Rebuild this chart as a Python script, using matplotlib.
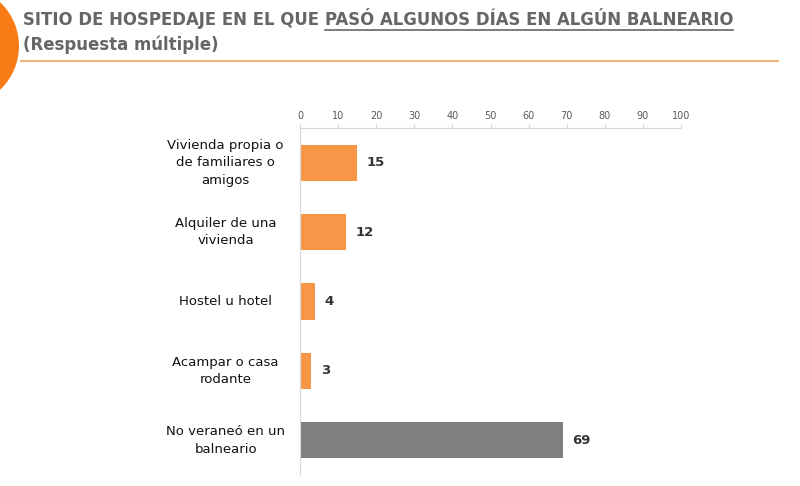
import matplotlib
matplotlib.use("Agg")
import matplotlib.pyplot as plt
from matplotlib.patches import Ellipse
from matplotlib.lines import Line2D

# --- Datos ---
categorias = ["Vivienda propia o\nde familiares o\namigos",
              "Alquiler de una\nvivienda",
              "Hostel u hotel",
              "Acampar o casa\nrodante",
              "No veraneó en un\nbalneario"]
valores = [15, 12, 4, 3, 69]
colores = ["#F79646", "#F79646", "#F79646", "#F79646", "#7F7F7F"]
ticks = list(range(0, 101, 10))

titulo_a = "SITIO DE HOSPEDAJE EN EL QUE "
titulo_b = "PASÓ ALGUNOS DÍAS EN ALGÚN BALNEARIO"
subtitulo = "(Respuesta múltiple)"

fig = plt.figure(figsize=(8, 4.86), dpi=100)
fig.patch.set_facecolor("white")

# círculo naranja en el borde (en píxeles -> fracción de figura)
fig.patches.append(Ellipse((-41 / 800, 1 - 46 / 486), 120 / 800, 120 / 486,
                           transform=fig.transFigure, facecolor="#F97B16", edgecolor="none"))
# línea bajo el título
fig.add_artist(Line2D([21 / 800, 778 / 800], [1 - 61 / 486, 1 - 61 / 486],
                      color="#F2B27A", lw=1.5, transform=fig.transFigure))

tfont = dict(family=["DejaVu Sans"], fontsize=13.2, color="#666666", weight="bold",
             stretch="condensed")
t1 = fig.text(23 / 800, 1 - 20 / 486, titulo_a, va="center", ha="left", **tfont)
fig.canvas.draw()
r = fig.canvas.get_renderer()
bb = t1.get_window_extent(r)
x2 = bb.x1 / fig.bbox.width
t2 = fig.text(x2, 1 - 20 / 486, titulo_b, va="center", ha="left", **tfont)
fig.canvas.draw()
bb2 = t2.get_window_extent(r)
yline = (bb2.y0 - 1) / fig.bbox.height
fig.add_artist(Line2D([bb2.x0 / fig.bbox.width, bb2.x1 / fig.bbox.width], [yline, yline],
                      color="#666666", lw=1.2, transform=fig.transFigure))
fig.text(23 / 800, 1 - 45 / 486, subtitulo, va="center", ha="left", **tfont)

# --- Gráfico de barras ---
ax = fig.add_axes([300 / 800, 1 - 475 / 486, 381 / 800, 347 / 486])
y = list(range(len(categorias)))
ax.barh(y, valores, height=0.52, color=colores)
ax.set_xlim(0, 100)
ax.set_ylim(len(categorias) - 0.5, -0.5)
ax.xaxis.tick_top()
ax.set_xticks(ticks)
ax.tick_params(axis="x", colors="#D9D9D9", labelcolor="#595959", labelsize=7, length=3, pad=2)
ax.set_yticks(y)
ax.set_yticklabels([])
ax.tick_params(axis="y", length=0)
for s in ["right", "bottom"]:
    ax.spines[s].set_visible(False)
ax.spines["top"].set_color("#D9D9D9")
ax.spines["left"].set_color("#D9D9D9")

for yi, cat in zip(y, categorias):
    ax.text(-19.5, yi, cat, ha="center", va="center", fontsize=9.5, color="#111111",
            clip_on=False, linespacing=1.45)

for yi, v in zip(y, valores):
    ax.text(v + 2.5, yi, str(v), ha="left", va="center", fontsize=9.5, color="#333333",
            weight="bold")

fig.savefig("out.png", dpi=100)
